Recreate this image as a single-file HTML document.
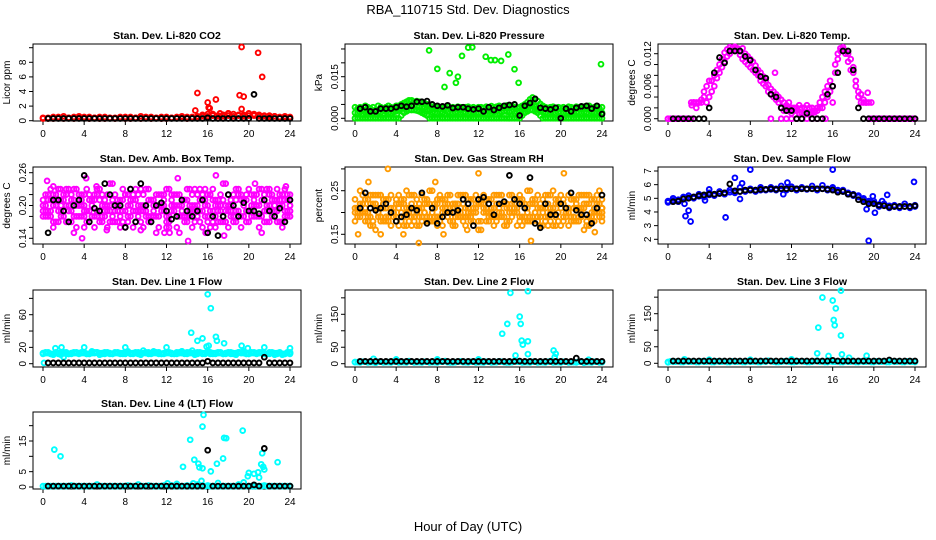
<!DOCTYPE html>
<html><head><meta charset="utf-8"><style>
html,body{margin:0;padding:0;background:#fff;}
svg{display:block;font-family:"Liberation Sans",Arial,sans-serif;}
</style></head><body>
<svg id="chart" width="936" height="540" viewBox="0 0 936 540" xmlns="http://www.w3.org/2000/svg">
<text x="468" y="14" text-anchor="middle" font-size="13">RBA_110715  Std. Dev. Diagnostics</text>
<text x="468" y="531" text-anchor="middle" font-size="13">Hour of Day (UTC)</text>
</svg>
<script>
// ---------- data (colored series: evenly spaced over 0..24 h; black series: 0.5..24 h) ----------
const co2Red = [0.4,0.3,0.5,0.4,0.6,0.4,0.5,0.6,0.4,0.5,0.4,0.3,0.5,0.4,0.4,0.5,0.3,0.5,0.4,0.6,0.4,0.5,0.4,0.3,0.5,0.4,0.4,0.6,0.5,0.4,0.5,0.6,0.9,0.7,0.6,0.8,1.0,0.9,0.7,0.8,1.0,0.7,0.8,0.6,0.7,0.6,0.5,0.6,0.5];
const co2RedB = [0.3,0.4,0.3,0.5,0.3,0.4,0.3,0.4,0.5,0.3,0.4,0.5,0.3,0.4,0.3,0.4,0.5,0.3,0.4,0.3,0.5,0.3,0.4,0.5,0.3,0.4,0.5,0.4,0.3,0.5,0.6,0.8,0.6,0.9,0.7,0.6,0.7,0.6,0.8,0.6,0.7,0.9,0.6,0.7,0.5,0.6,0.4,0.5,0.4];
const co2OutT = [14.8,15.0,16.0,16.1,16.2,16.5,16.8,17.2,18.0,19.1,19.3,19.3,19.5,20.9,21.3];
const co2OutV = [1.4,3.8,2.5,1.8,1.7,0.9,2.9,1.0,1.0,3.5,1.6,10.1,3.3,9.3,6.0];
const co2Black = [0.3,0.3,0.3,0.3,0.3,0.3,0.3,0.3,0.3,0.3,0.3,0.3,0.3,0.3,0.3,0.3,0.3,0.3,0.3,0.3,0.3,0.3,0.3,0.3,0.3,0.3,0.3,0.3,0.3,0.3,0.3,0.4,0.3,0.3,0.3,0.3,0.3,0.3,0.3,0.3,3.6,0.3,0.3,0.3,0.3,0.3,0.3,0.3];

const prTop = [0.004,0.0035,0.004,0.003,0.0045,0.004,0.0035,0.004,0.003,0.0045,0.004,0.0035,0.004,0.0045,0.004,0.0035,0.0045,0.0045,0.005,0.0055,0.006,0.0065,0.0065,0.006,0.0062,0.006,0.0058,0.0055,0.005,0.0045,0.0042,0.004,0.004,0.004,0.0038,0.004,0.0042,0.0035,0.004,0.0038,0.0042,0.004,0.0036,0.004,0.0042,0.0038,0.004,0.0035,0.004,0.004,0.0038,0.0042,0.004,0.0044,0.004,0.0042,0.0045,0.004,0.0042,0.0046,0.0044,0.0045,0.004,0.0038,0.004,0.0045,0.005,0.0058,0.0068,0.0075,0.007,0.0062,0.0052,0.0045,0.004,0.0038,0.004,0.0042,0.0036,0.004,0.0038,0.004,0.0036,0.0042,0.004,0.0038,0.0042,0.004,0.0035,0.0042,0.004,0.0045,0.0038,0.004,0.0042,0.0036,0.004];
const prMid = [0.002,0.0018,0.0022,0.0015,0.002,0.0025,0.0018,0.002,0.0015,0.0022,0.002,0.0018,0.0025,0.002,0.0018,0.0022,0.0025,0.003,0.0035,0.004,0.0045,0.0048,0.0046,0.0045,0.0044,0.0042,0.004,0.0038,0.0032,0.0028,0.0022,0.002,0.0018,0.0022,0.002,0.0016,0.0022,0.002,0.0018,0.0022,0.002,0.0015,0.002,0.0022,0.0018,0.002,0.0022,0.002,0.0018,0.002,0.0022,0.002,0.0025,0.002,0.0022,0.0025,0.002,0.0022,0.0025,0.0024,0.0022,0.0025,0.002,0.0022,0.0025,0.003,0.0038,0.0045,0.005,0.0048,0.0042,0.0035,0.0028,0.0022,0.002,0.0018,0.0022,0.002,0.0018,0.0022,0.002,0.0018,0.0022,0.002,0.0018,0.002,0.0022,0.002,0.0018,0.0022,0.002,0.0018,0.0022,0.002,0.0018,0.0022,0.002];
const prBase = [0,0,0,0,0,0,0,0,0,0,0,0,0,0,0,0,0,0,0.001,0.002,0.0025,0.003,0.003,0.003,0.0028,0.0025,0.002,0.0015,0.001,0,0,0,0,0,0,0,0,0,0,0,0,0,0,0,0,0,0,0,0,0,0,0,0,0,0,0,0,0,0,0,0,0,0,0,0,0.001,0.002,0.0025,0.003,0.003,0.0025,0.002,0.001,0,0,0,0,0,0,0,0,0,0,0,0,0,0,0,0,0,0,0,0,0,0,0,0];
const prOutT = [7.2,8.0,8.7,9.2,9.8,10.0,10.4,11.0,11.4,12.7,13.2,13.6,14.2,14.9,15.5,15.9,23.9];
const prOutV = [0.0245,0.0178,0.0113,0.0163,0.0128,0.015,0.0225,0.0255,0.0256,0.0222,0.021,0.021,0.0207,0.023,0.0177,0.0128,0.0195];
const prBlack = [0.0035,0.004,0.0025,0.0025,0.0035,0.0035,0.0035,0.004,0.0045,0.0042,0.0045,0.006,0.006,0.0062,0.005,0.0045,0.0043,0.0047,0.0037,0.004,0.004,0.0035,0.0032,0.0035,0.0025,0.004,0.003,0.0038,0.0045,0.0048,0.005,0.001,0.0045,0.0055,0.007,0.0038,0.0035,0.0032,0.0038,0,0.0035,0.0025,0.0038,0.0043,0.0045,0.0035,0.0045,0.0015];

const tmA = [0,0,0,0,0,0,0,0,0,0,0.003,0.003,0.003,0.0035,0.004,0.003,0.004,0.005,0.006,0.0075,0.0085,0.0095,0.0105,0.0115,0.012,0.0125,0.013,0.0128,0.0125,0.013,0.012,0.0115,0.011,0.0105,0.0098,0.009,0.0085,0.0078,0.007,0.0062,0.0055,0.005,0.0045,0.004,0.0035,0.003,0.0025,0.002,0.002,0.0015,0.0015,0.001,0.001,0.001,0.001,0.001,0.001,0.0012,0.0015,0.002,0.002,0.003,0.004,0.005,0.006,0.0085,0.011,0.0125,0.0128,0.0125,0.012,0.011,0.0095,0.007,0.005,0.003,0.003,0.003,0,0,0,0,0,0,0,0,0,0,0,0,0,0,0,0,0,0,0];
const tmB = [0,0,0,0,0,0,0,0,0,0.003,0.003,0.002,0.003,0.003,0.005,0.006,0.007,0.007,0.008,0.009,0.01,0.011,0.0122,0.0128,0.0132,0.013,0.0133,0.013,0.0118,0.011,0.0105,0.01,0.0095,0.009,0.0085,0.008,0.007,0.0065,0.006,0.005,0.0045,0.004,0.0035,0.003,0.002,0.0015,0.002,0.003,0.001,0.002,0.002,0.0025,0.002,0.002,0.0025,0.002,0.002,0.0015,0.002,0.003,0.004,0.005,0.006,0.007,0.003,0.01,0.012,0.013,0.0132,0.012,0.0105,0.009,0.0085,0.006,0.004,0.0045,0.0035,0.003,0.003,0.003,0,0,0,0,0,0,0,0,0,0,0,0,0,0,0,0,0];
const tmOutT = [10.0,11.0,11.5,12.0,12.5,13.0,13.5,14.0,14.5,15.0,15.3,10.4,19.4,2.3,11.7];
const tmOutV = [0,0,0,0,0,0,0,0,0,0,0,0.0085,0.0048,0.0025,0.0015];
const tmBlack = [0,0,0,0,0,0,0,0.002,0.0085,0.0113,0.0103,0.0125,0.0125,0.0125,0.0115,0.0108,0.009,0.0078,0.0075,0.0045,0.004,0.002,0.0015,0.0015,0,0,0.001,0,0,0,0.0045,0.006,0.0085,0.0125,0.0125,0.009,0.002,0,0,0,0,0,0,0,0,0,0,0];

const ambA = [0.20,0.18,0.22,0.19,0.21,0.17,0.23,0.20,0.18,0.22,0.16,0.21,0.19,0.24,0.17,0.20,0.22,0.18,0.21,0.19,0.23,0.17,0.20,0.22,0.18,0.21,0.16,0.20,0.23,0.19,0.18,0.22,0.20,0.17,0.21,0.24,0.19,0.18,0.22,0.20,0.17,0.21,0.23,0.19,0.20,0.18,0.22,0.21,0.19];
const ambB = [0.18,0.22,0.17,0.21,0.19,0.23,0.18,0.20,0.22,0.17,0.21,0.19,0.18,0.20,0.22,0.16,0.19,0.21,0.17,0.23,0.20,0.18,0.22,0.19,0.17,0.20,0.22,0.18,0.21,0.16,0.22,0.19,0.17,0.21,0.20,0.18,0.22,0.17,0.19,0.21,0.23,0.18,0.20,0.17,0.22,0.19,0.21,0.18,0.20];
const ambC = [0.21,0.19,0.16,0.23,0.18,0.20,0.15,0.22,0.19,0.21,0.18,0.23,0.20,0.17,0.19,0.21,0.16,0.23,0.19,0.20,0.18,0.21,0.15,0.20,0.23,0.19,0.18,0.21,0.17,0.20,0.19,0.16,0.22,0.19,0.17,0.21,0.16,0.20,0.23,0.18,0.19,0.22,0.16,0.21,0.23,0.20,0.17,0.19,0.22];
const ambD = [0.19,0.21,0.20,0.17,0.22,0.19,0.21,0.18,0.20,0.19,0.22,0.17,0.21,0.19,0.20,0.18,0.22,0.20,0.23,0.17,0.19,0.21,0.18,0.20,0.16,0.22,0.20,0.19,0.18,0.22,0.20,0.21,0.18,0.23,0.19,0.17,0.20,0.22,0.18,0.21,0.19,0.20,0.18,0.22,0.17,0.21,0.20,0.23,0.18];
const ambOutT = [1.0,1.7,5.2,4.0,0.4,16.8,17.6,14.1,13.1,9.5,23.6,20.6,11.8,12.3,3.8,15.8,4.2,6.2];
const ambOutV = [0.235,0.23,0.235,0.16,0.245,0.255,0.145,0.135,0.25,0.155,0.235,0.24,0.15,0.15,0.14,0.15,0.25,0.155];
const ambBlack = [0.15,0.21,0.21,0.19,0.17,0.20,0.21,0.255,0.17,0.195,0.19,0.24,0.22,0.20,0.20,0.16,0.23,0.17,0.24,0.20,0.17,0.20,0.205,0.19,0.175,0.18,0.21,0.19,0.18,0.19,0.21,0.15,0.18,0.145,0.18,0.22,0.20,0.18,0.205,0.19,0.19,0.185,0.21,0.19,0.18,0.195,0.17,0.21];

const rhA = [0.20,0.22,0.18,0.24,0.21,0.19,0.23,0.17,0.22,0.20,0.25,0.19,0.21,0.18,0.23,0.20,0.22,0.17,0.24,0.21,0.19,0.22,0.20,0.18,0.23,0.21,0.19,0.24,0.20,0.22,0.18,0.21,0.23,0.19,0.22,0.20,0.17,0.24,0.21,0.19,0.22,0.20,0.23,0.18,0.21,0.24,0.19,0.22,0.20];
const rhB = [0.23,0.19,0.21,0.17,0.22,0.24,0.18,0.21,0.19,0.23,0.17,0.22,0.20,0.24,0.18,0.21,0.19,0.23,0.20,0.17,0.22,0.24,0.19,0.21,0.18,0.20,0.23,0.17,0.21,0.19,0.24,0.20,0.18,0.22,0.19,0.23,0.21,0.18,0.20,0.23,0.17,0.21,0.19,0.22,0.24,0.18,0.20,0.22,0.21];
const rhC = [0.18,0.25,0.20,0.22,0.16,0.21,0.19,0.24,0.18,0.22,0.20,0.17,0.23,0.21,0.19,0.25,0.17,0.20,0.22,0.18,0.24,0.19,0.21,0.23,0.16,0.22,0.20,0.19,0.24,0.17,0.21,0.22,0.19,0.18,0.25,0.20,0.22,0.19,0.24,0.17,0.21,0.20,0.18,0.23,0.19,0.17,0.23,0.20,0.19];
const rhD = [0.21,0.20,0.23,0.19,0.24,0.18,0.21,0.20,0.23,0.18,0.21,0.24,0.17,0.19,0.22,0.18,0.23,0.21,0.19,0.22,0.20,0.18,0.23,0.20,0.22,0.24,0.18,0.21,0.19,0.22,0.20,0.23,0.24,0.21,0.18,0.22,0.19,0.21,0.18,0.22,0.24,0.19,0.23,0.21,0.20,0.22,0.18,0.24,0.21];
const rhOutT = [3.2,6.2,2.5,12.0,0.3,20.3,17.1,8.6,4.7,1.3,23.3,10.9,7.8];
const rhOutV = [0.30,0.13,0.15,0.29,0.15,0.29,0.135,0.15,0.15,0.27,0.155,0.16,0.27];
const rhBlack = [0.21,0.245,0.21,0.205,0.21,0.22,0.20,0.18,0.19,0.195,0.21,0.205,0.245,0.175,0.21,0.175,0.19,0.20,0.20,0.205,0.23,0.22,0.17,0.23,0.235,0.22,0.195,0.22,0.225,0.285,0.23,0.22,0.21,0.28,0.175,0.165,0.22,0.195,0.195,0.22,0.21,0.245,0.205,0.195,0.195,0.175,0.21,0.24];

const sfA = [4.8,4.85,4.9,5.0,5.05,5.1,5.15,5.2,5.25,5.3,5.35,5.4,5.45,5.5,5.5,5.55,5.6,5.6,5.6,5.65,5.65,5.7,5.7,5.7,5.7,5.7,5.7,5.7,5.7,5.7,5.7,5.7,5.65,5.6,5.5,5.4,5.3,5.2,5.0,4.8,4.65,4.55,4.5,4.45,4.4,4.4,4.4,4.4,4.4];
const sfB = [4.7,5.0,4.75,5.1,5.2,5.0,5.3,5.1,5.4,5.2,5.5,5.3,5.6,5.4,5.8,5.5,5.7,5.5,5.8,5.6,5.8,5.6,5.9,5.6,5.85,5.6,5.8,5.65,5.9,5.6,5.95,5.6,5.8,5.5,5.6,5.3,5.2,5.1,4.9,4.7,4.8,4.4,4.6,4.3,4.5,4.3,4.6,4.3,4.5];
const sfOutT = [1.7,2.0,2.2,5.6,6.5,7.2,8.0,16.0,19.5,20.1,21.3,23.9,1.6,3.6,4.0,7.0,11.2,11.6,19.3,19.9,20.8];
const sfOutV = [3.7,4.1,3.3,3.6,6.5,6.1,7.1,7.1,1.9,3.95,5.25,6.2,4.6,4.85,5.65,4.95,5.3,6.15,4.2,5.15,4.8];
const sfBlack = [4.75,4.8,4.95,5.0,5.1,5.2,5.25,5.3,5.3,5.35,5.4,6.05,5.55,5.5,5.6,5.6,5.6,5.65,5.65,5.7,5.65,5.7,5.7,5.7,5.7,5.7,5.7,5.7,5.7,5.7,5.65,5.6,5.45,5.5,5.3,5.25,4.9,4.75,4.6,4.6,4.5,4.45,4.35,4.4,4.4,4.4,4.4,4.45];

const l1A = [13,13,12,13,13,12,13,13,13,12,13,13,12,13,13,13,12,13,13,12,13,13,13,12,13,13,12,13,14,13,12,13,14,13,13,12,13,13,14,13,12,13,13,13,12,13,13,12,13];
const l1B = [12,14,11,12,14,12,14,12,14,12,14,11,14,12,14,12,14,12,14,11,14,12,14,12,14,12,14,15,12,16,14,12,15,12,14,12,14,12,14,15,12,14,14,12,14,11,14,12,14];
const l1OutT = [1.2,1.8,4.0,8.0,12.0,14.4,15.0,15.5,16.0,16.3,15.9,16.1,16.8,16.9,17.6,19.3,19.9,21.5,24.0,13.5,0.1,2.0];
const l1OutV = [19,20,20,20,20,38,28,31,85,68,21,22,33,28,25,22,19,20,19,15,1,8];
const l1Black = [1,1,1,1,1,1,1,1,1,1,1,1,1,1,1,1,1,1,1,1,1,1,1,1,1,1,1,1,1,1,1,3,1,1,1,1,1,1,1,1,1,1,8,1,1,1,1,1];

const l2A = [5,4,6,5,3,6,5,4,6,5,4,6,5,4,6,5,4,6,5,4,6,5,4,6,5,4,6,5,7,5,4,8,6,5,4,6,5,4,8,5,4,6,5,4,6,5,4,6,5];
const l2OutT = [14.3,14.8,15.1,16.0,16.1,16.2,16.3,16.8,16.8,16.8,15.6,19.3,19.5,19.4,1.8,4.0,8.0,12.0,22.7,0.0];
const l2OutV = [91,121,215,143,121,70,58,68,220,29,25,40,30,20,15,13,13,13,12,5];
const l2Black = [7,7,7,7,7,7,7,7,7,7,7,7,7,7,7,7,7,7,7,7,7,7,7,7,7,7,7,7,7,7,7,8,7,7,7,7,7,7,7,7,7,7,17,7,7,7,7,7];

const l3A = [4,5,6,4,5,6,4,5,6,4,5,6,4,5,6,4,5,6,4,5,6,4,5,6,4,5,6,4,5,8,6,4,5,6,4,5,6,4,5,6,4,5,6,4,5,6,4,5,6];
const l3OutT = [14.6,15.0,14.5,15.6,16.0,16.1,16.2,16.3,16.8,16.8,16.9,17.6,19.3,1.6,4.0,8.0,12.0,0.0];
const l3OutV = [108,199,30,22,190,131,115,166,220,84,27,17,23,12,11,11,12,3];
const l3Black = [7,7,7,7,7,7,7,7,7,7,7,7,7,7,7,7,7,7,7,7,7,7,7,7,7,7,7,7,7,7,7,9,7,7,7,7,7,7,7,7,7,7,10,7,7,7,7,7];

const l4A = [0.3,0.3,0.3,0.3,0.3,0.3,0.3,0.3,0.3,0.3,0.3,0.3,0.3,0.3,0.3,0.3,0.3,0.3,0.3,0.3,0.3,0.3,0.3,0.3,0.3,0.5,0.3,0.3,0.5,0.3,0.8,0.3,0.5,0.3,0.3,0.3,0.3,0.3,0.8,0.3,0.3,0.3,0.3,0.5,0.3,0.3,0.3,0.3,0.3];
const l4OutT = [1.1,1.7,13.6,14.3,14.7,15.1,15.2,15.5,15.5,15.6,16.3,16.9,17.6,17.5,17.8,19.4,19.9,20.0,20.5,20.9,21.0,21.2,21.3,21.4,21.5,22.8,12.1,13.0,15.4,17.0,14.6,19.5];
const l4OutV = [12.2,10.0,6.6,15.4,8.9,7.6,6.4,6.1,19.7,23.5,5.1,7.6,16.0,9.3,15.9,18.4,3.5,4.6,4.3,4.8,3.1,7.4,11.0,6.6,5.7,8.1,1.2,1.0,2.0,1.3,1.2,1.5];
const l4Black = [0.3,0.3,0.3,0.3,0.3,0.3,0.3,0.3,0.3,0.3,0.3,0.3,0.3,0.3,0.3,0.3,0.3,0.3,0.3,0.3,0.3,0.3,0.3,0.3,0.3,0.3,0.3,0.3,0.3,0.3,0.3,12,0.3,0.3,0.3,0.3,0.3,0.3,0.3,0.3,0.7,0.3,12.6,0.3,0.3,0.3,0.3,0.3];

const xTicks = [0,4,8,12,16,20,24];

// ---------- layout ----------
const svg = document.getElementById('chart');
const NS = 'http://www.w3.org/2000/svg';
const colLeft = [33,345,658];
const rowTop = [44,167,290,412];
const boxW = 268, boxH = 77;

function mk(tag, attrs, parent){
  const e = document.createElementNS(NS, tag);
  for (const k in attrs) e.setAttribute(k, attrs[k]);
  (parent||svg).appendChild(e);
  return e;
}

function panel(cfg){
  const L = colLeft[cfg.col], T = rowTop[cfg.row];
  const g = mk('g', {});
  
  
  const xs = h => L + 10 + h * (247/24);
  const ys = v => cfg.pA + (v - cfg.vA) * (cfg.pB - cfg.pA) / (cfg.vB - cfg.vA);
  const t = mk('text', {x: L + boxW/2, y: T - 5, 'text-anchor':'middle', 'font-size':'10.5', 'font-weight':'bold'}, g);
  t.textContent = cfg.title;
  
  
  const b = mk('rect', {x:L, y:T, width:boxW, height:boxH, fill:'none', stroke:'#000', 'stroke-width':1}, g);
  
  
  const xa = mk('g', {}, g);
  
  
  mk('line', {x1:xs(0), x2:xs(24), y1:T+boxH, y2:T+boxH, stroke:'#000'}, xa);
  xTicks.forEach(v => {
    mk('line', {x1:xs(v), x2:xs(v), y1:T+boxH, y2:T+boxH+4, stroke:'#000'}, xa);
    const tl = mk('text', {x:xs(v), y:T+boxH+16, 'text-anchor':'middle', 'font-size':'10'}, xa);
    tl.textContent = v;
    
    
  });
  const ya = mk('g', {}, g);
  
  
  mk('line', {x1:L, x2:L, y1:ys(cfg.yTicks[0]), y2:ys(cfg.yTicks[cfg.yTicks.length-1]), stroke:'#000'}, ya);
  cfg.yTicks.forEach((v,i) => {
    const y = ys(v);
    mk('line', {x1:L-4, x2:L, y1:y, y2:y, stroke:'#000'}, ya);
    if (cfg.yLabels[i] !== '') {
      const tl = mk('text', {x:L-7, y:y, 'text-anchor':'middle', 'font-size':'10', transform:'rotate(-90 '+(L-7)+' '+y+')'}, ya);
      tl.textContent = cfg.yLabels[i];
      
      
    }
  });
  const yt = mk('text', {x:L-23, y:T+boxH/2, 'text-anchor':'middle', 'font-size':'10', transform:'rotate(-90 '+(L-23)+' '+(T+boxH/2)+')'}, g);
  yt.textContent = cfg.ylab;
  
  
  const pts = mk('g', {fill:'none', 'stroke-width':1.9}, g);
  
  
  function dots(times, vals, color, label){
    const sg = mk('g', {stroke:color}, pts);
    
    
    for (let i = 0; i < vals.length; i++) {
      const c = mk('circle', {cx:xs(times[i]).toFixed(1), cy:ys(vals[i]).toFixed(1), r:2.4}, sg);
      
      
    }
  }
  cfg.series.forEach(s => {
    const n = s.length;
    const times = s.map((_, i) => i * 24 / (n - 1));
    dots(times, s, cfg.color, cfg.name + '-series');
    if (cfg.dense) {
      const rev = s.slice().reverse();
      const t2 = rev.map((_, i) => Math.min(24, (i + 0.5) * 24 / (n - 1)));
      dots(t2, rev, cfg.color, cfg.name + '-series-offset');
    }
  });
  if (cfg.outT) dots(cfg.outT, cfg.outV, cfg.color, cfg.name + '-outliers');
  const m = cfg.black.length;
  const bt = cfg.black.map((_, i) => 0.5 + i * 23.5 / (m - 1));
  dots(bt, cfg.black, '#000', cfg.name + '-hourly-series');
}

panel({name:'co2', col:0, row:0, title:'Stan. Dev. Li-820 CO2', ylab:'Licor ppm', color:'#ff0000',
  vA:0, pA:120.7, vB:8, pB:62.3, yTicks:[0,2,4,6,8,10], yLabels:['0','2','4','6','8',''],
  series:[co2Red, co2RedB], outT:co2OutT, outV:co2OutV, black:co2Black});
panel({name:'pressure', col:1, row:0, title:'Stan. Dev. Li-820 Pressure', ylab:'kPa', color:'#00ee00',
  vA:0, pA:118.3, vB:0.015, pB:76.7, yTicks:[0,0.005,0.01,0.015,0.02,0.025], yLabels:['0.000','','','0.015','',''],
  series:[prBase, prMid, prTop], outT:prOutT, outV:prOutV, black:prBlack});
panel({name:'li820-temp', col:2, row:0, title:'Stan. Dev. Li-820 Temp.', ylab:'degrees C', color:'#ff00ff',
  vA:0, pA:118.7, vB:0.012, pB:53.7, yTicks:[0,0.002,0.004,0.006,0.008,0.01,0.012], yLabels:['0.000','','','0.006','','','0.012'],
  series:[tmA, tmB], outT:tmOutT, outV:tmOutV, black:tmBlack});
panel({name:'amb-box-temp', col:0, row:1, title:'Stan. Dev. Amb. Box Temp.', ylab:'degrees C', color:'#ff00ff', dense:true,
  vA:0.14, pA:238.3, vB:0.26, pB:172.7, yTicks:[0.14,0.16,0.18,0.2,0.22,0.24,0.26], yLabels:['0.14','','','0.20','','','0.26'],
  series:[ambA, ambB, ambC, ambD], outT:ambOutT, outV:ambOutV, black:ambBlack});
panel({name:'gas-stream-rh', col:1, row:1, title:'Stan. Dev. Gas Stream RH', ylab:'percent', color:'#ff9a00', dense:true,
  vA:0.15, pA:234.3, vB:0.25, pB:190.7, yTicks:[0.15,0.2,0.25,0.3], yLabels:['0.15','','0.25',''],
  series:[rhA, rhB, rhC, rhD], outT:rhOutT, outV:rhOutV, black:rhBlack});
panel({name:'sample-flow', col:2, row:1, title:'Stan. Dev. Sample Flow', ylab:'ml/min', color:'#0000ff',
  vA:2, pA:239.3, vB:7, pB:171, yTicks:[2,3,4,5,6,7], yLabels:['2','3','4','5','6','7'],
  series:[sfA, sfB], outT:sfOutT, outV:sfOutV, black:sfBlack});
panel({name:'line1-flow', col:0, row:2, title:'Stan. Dev. Line 1 Flow', ylab:'ml/min', color:'#00ffff', dense:true,
  vA:0, pA:363.7, vB:60, pB:314.7, yTicks:[0,20,40,60,80], yLabels:['0','20','','60',''],
  series:[l1A, l1B], outT:l1OutT, outV:l1OutV, black:l1Black});
panel({name:'line2-flow', col:1, row:2, title:'Stan. Dev. Line 2 Flow', ylab:'ml/min', color:'#00ffff', dense:true,
  vA:0, pA:363.7, vB:150, pB:314.3, yTicks:[0,50,100,150,200], yLabels:['0','50','','150',''],
  series:[l2A], outT:l2OutT, outV:l2OutV, black:l2Black});
panel({name:'line3-flow', col:2, row:2, title:'Stan. Dev. Line 3 Flow', ylab:'ml/min', color:'#00ffff', dense:true,
  vA:0, pA:363.3, vB:150, pB:313.7, yTicks:[0,50,100,150,200], yLabels:['0','50','','150',''],
  series:[l3A], outT:l3OutT, outV:l3OutV, black:l3Black});
panel({name:'line4-flow', col:0, row:3, title:'Stan. Dev. Line 4 (LT) Flow', ylab:'ml/min', color:'#00ffff', dense:true,
  vA:0, pA:487, vB:15, pB:441, yTicks:[0,5,10,15,20], yLabels:['0','5','','15',''],
  series:[l4A], outT:l4OutT, outV:l4OutV, black:l4Black});
</script>
</body></html>
